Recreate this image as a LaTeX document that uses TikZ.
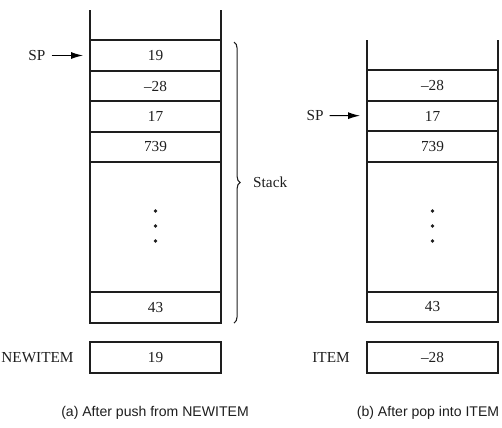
\documentclass[tikz,border=0pt]{standalone}
\usepackage{fontspec}
\setmainfont{Liberation Serif}
\setsansfont{Liberation Sans}
\usepackage{tikz}
\usetikzlibrary{arrows.meta,positioning,decorations.pathreplacing}
\definecolor{ink}{HTML}{1E1E1E}

\begin{document}
\begin{tikzpicture}[x=0.02cm,y=-0.02cm, every node/.style={font=\fontsize{8.7}{10}\selectfont,text=ink}, cell/.style={draw=ink,line width=1pt,minimum width=2.62cm,minimum height=.61cm,inner sep=0pt,outer sep=0pt}, gap/.style={cell,minimum height=2.6cm}, captxt/.style={font=\sffamily\fontsize{8}{9}\selectfont}, wall/.style={draw=ink,line width=1pt}, ptr/.style={-{Latex[length=2.4mm,width=1.4mm]},line width=.6pt,shorten >=1.4mm}]
\useasboundingbox (0,0) rectangle (502,427);
% (a) after push
\node[cell] (a1) at (155.5,55.5) {19};
\node[cell,below=0pt of a1] (a2) {--28};
\node[cell,below=0pt of a2] (a3) {17};
\node[cell,below=0pt of a3] (a4) {739};
\node[gap,below=0pt of a4] (a5) {};
\node[cell,below=0pt of a5] (a6) {43};
\draw[wall] (a1.north west) -- ++(0,-30);
\draw[wall] (a1.north east) -- ++(0,-30);
\foreach \y in {211,226,241} \fill[ink] (a5.center |- 0,\y) circle (1.1pt);
\node[cell] (anew) at (155.5,357.5) {19};
\node (anewl) at (37.5,357.5) {NEWITEM};
\node (asp) at (37,55.5) {SP};
\draw[ptr] (asp) -- (a1);
\coordinate (bt) at (234,42);
\coordinate (bb) at (234,323);
\draw[decorate,decoration={brace,amplitude=3.5pt},line width=.6pt,ink] (bt) -- (bb);
\node[anchor=west] (stk) at (247,182) {Stack};
\node[captxt] (acap) at (155,413) {(a) After push from NEWITEM};
% (b) after pop
\node[cell] (b2) at (432.5,85.5) {--28};
\node[cell,below=0pt of b2] (b3) {17};
\node[cell,below=0pt of b3] (b4) {739};
\node[gap,below=0pt of b4] (b5) {};
\node[cell,below=0pt of b5] (b6) {43};
\draw[wall] (b2.north west) -- ++(0,-30);
\draw[wall] (b2.north east) -- ++(0,-30);
\foreach \y in {211,226,241} \fill[ink] (b5.center |- 0,\y) circle (1.1pt);
\node[cell] (bitem) at (432.5,357.5) {--28};
\node (bitemL) at (331,357.5) {ITEM};
\node (bsp) at (315,115.5) {SP};
\draw[ptr] (bsp) -- (b3);
\node[captxt] (bcap) at (428,413) {(b) After pop into ITEM};
\end{tikzpicture}
\end{document}
